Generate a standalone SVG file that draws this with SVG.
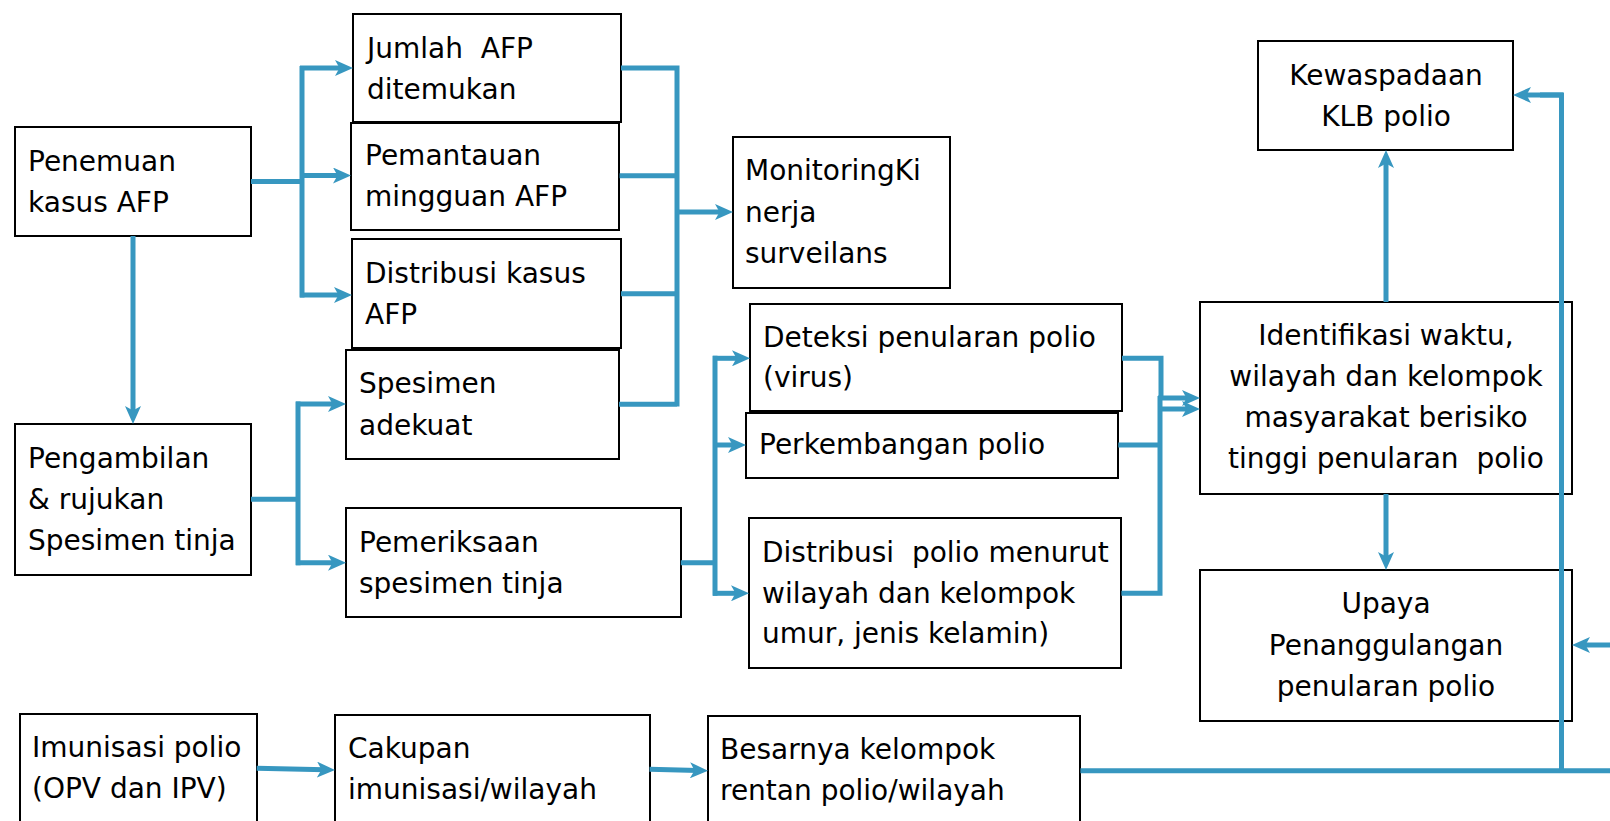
<svg xmlns="http://www.w3.org/2000/svg" width="1610" height="821" viewBox="0 0 1610 821">
<style>
.box{fill:#fff;stroke:#000;stroke-width:2}
.t{font-family:"DejaVu Sans","Liberation Sans",sans-serif;font-size:28px;fill:#000;white-space:pre}
.c{text-anchor:middle}
.ln{fill:none;stroke:#3797C0;stroke-width:5}
.ar{fill:none;stroke:#3797C0;stroke-width:5;marker-end:url(#ah)}
</style>
<defs>
<marker id="ah" viewBox="0 0 18 16" refX="8" refY="8" markerWidth="18" markerHeight="16" orient="auto" markerUnits="userSpaceOnUse">
<path d="M18,8 L0,0 L4.5,8 L0,16 Z" fill="#3797C0"/>
</marker>
</defs>
<rect width="1610" height="821" fill="#fff"/>

<g id="n-penemuan"><rect class="box" x="15" y="127" width="236" height="109"/>
<text class="t" x="28" y="171">Penemuan</text><text class="t" x="28" y="212">kasus AFP</text></g>

<g id="n-jumlah"><rect class="box" x="353" y="14" width="268" height="108"/>
<text class="t" x="367" y="58" xml:space="preserve">Jumlah  AFP</text><text class="t" x="367" y="99">ditemukan</text></g>

<g id="n-pemantauan"><rect class="box" x="351" y="123" width="268" height="107" stroke-width="2.5"/>
<text class="t" x="365" y="165">Pemantauan</text><text class="t" x="365" y="206">mingguan AFP</text></g>

<g id="n-distribusi-kasus"><rect class="box" x="352" y="239" width="269" height="109"/>
<text class="t" x="365" y="283">Distribusi kasus</text><text class="t" x="365" y="324">AFP</text></g>

<g id="n-spesimen"><rect class="box" x="346" y="350" width="273" height="109"/>
<text class="t" x="359" y="393">Spesimen</text><text class="t" x="359" y="435">adekuat</text></g>

<g id="n-pengambilan"><rect class="box" x="15" y="424" width="236" height="151"/>
<text class="t" x="28" y="468">Pengambilan</text><text class="t" x="28" y="509">&amp; rujukan</text><text class="t" x="28" y="550">Spesimen tinja</text></g>

<g id="n-pemeriksaan"><rect class="box" x="346" y="508" width="335" height="109"/>
<text class="t" x="359" y="552">Pemeriksaan</text><text class="t" x="359" y="593">spesimen tinja</text></g>

<g id="n-monitoring"><rect class="box" x="733" y="137" width="217" height="151"/>
<text class="t" x="745" y="180">MonitoringKi</text><text class="t" x="745" y="222">nerja</text><text class="t" x="745" y="263">surveilans</text></g>

<g id="n-deteksi"><rect class="box" x="750" y="304" width="372" height="107"/>
<text class="t" x="763" y="347">Deteksi penularan polio</text><text class="t" x="763" y="387">(virus)</text></g>

<g id="n-perkembangan"><rect class="box" x="746" y="413" width="372" height="65"/>
<text class="t" x="759" y="454">Perkembangan polio</text></g>

<g id="n-distribusi-polio"><rect class="box" x="749" y="518" width="372" height="150"/>
<text class="t" x="762" y="562" xml:space="preserve">Distribusi  polio menurut</text><text class="t" x="762" y="603">wilayah dan kelompok</text><text class="t" x="762" y="643">umur, jenis kelamin)</text></g>

<g id="n-identifikasi"><rect class="box" x="1200" y="302" width="372" height="192"/>
<text class="t c" x="1386" y="345">Identifikasi waktu,</text><text class="t c" x="1386" y="386">wilayah dan kelompok</text><text class="t c" x="1386" y="427">masyarakat berisiko</text><text class="t c" x="1386" y="468" xml:space="preserve">tinggi penularan  polio</text></g>

<g id="n-kewaspadaan"><rect class="box" x="1258" y="41" width="255" height="109"/>
<text class="t c" x="1386" y="85">Kewaspadaan</text><text class="t c" x="1386" y="126">KLB polio</text></g>

<g id="n-upaya"><rect class="box" x="1200" y="570" width="372" height="151"/>
<text class="t c" x="1386" y="613">Upaya</text><text class="t c" x="1386" y="655">Penanggulangan</text><text class="t c" x="1386" y="696">penularan polio</text></g>

<g id="n-imunisasi"><rect class="box" x="20" y="714" width="237" height="120"/>
<text class="t" x="32" y="757">Imunisasi polio</text><text class="t" x="32" y="798">(OPV dan IPV)</text></g>

<g id="n-cakupan"><rect class="box" x="335" y="715" width="315" height="120"/>
<text class="t" x="348" y="758">Cakupan</text><text class="t" x="348" y="799">imunisasi/wilayah</text></g>

<g id="n-besarnya"><rect class="box" x="708" y="716" width="372" height="120"/>
<text class="t" x="720" y="759">Besarnya kelompok</text><text class="t" x="720" y="800">rentan polio/wilayah</text></g>

<g id="connectors">
<path class="ln" d="M251,181.5 H302 M302,66 V297.5"/>
<path class="ar" d="M300,68 H343"/>
<path class="ar" d="M302,175.5 H341"/>
<path class="ar" d="M300,295 H342"/>
<path class="ar" d="M133,236 V414"/>
<path class="ln" d="M621,68 H677 V406.5 M619.6,175.7 H677 M621,293.7 H677 M619,404.3 H677"/>
<path class="ar" d="M677,212 H723"/>
<path class="ln" d="M251,499.3 H298 M298,401.5 V565.2"/>
<path class="ar" d="M296,404 H336"/>
<path class="ar" d="M296,562.7 H336"/>
<path class="ln" d="M680.8,562.7 H715 M715,355.8 V595.8"/>
<path class="ar" d="M713,358.3 H740"/>
<path class="ar" d="M715,445 H736"/>
<path class="ar" d="M713,593.3 H739"/>
<path class="ln" d="M1122,358.3 H1161 V398"/>
<path class="ln" d="M1121.4,593.3 H1160 V396 M1118.3,445 H1160"/>
<path class="ar" d="M1158,398 H1190"/>
<path class="ar" d="M1158,409 H1190"/>
<path class="ar" d="M1386,302 V160"/>
<path class="ar" d="M1386,494 V560"/>
<path class="ar" d="M256.7,768.3 L325,769.8"/>
<path class="ar" d="M649.5,769.3 L698,770.5"/>
<path class="ln" d="M1080.4,770.7 H1610 M1561.5,773 V95 H1540"/>
<path class="ar" d="M1563,95 H1523"/>
<path class="ar" d="M1610,645 H1582"/>
</g>
</svg>
